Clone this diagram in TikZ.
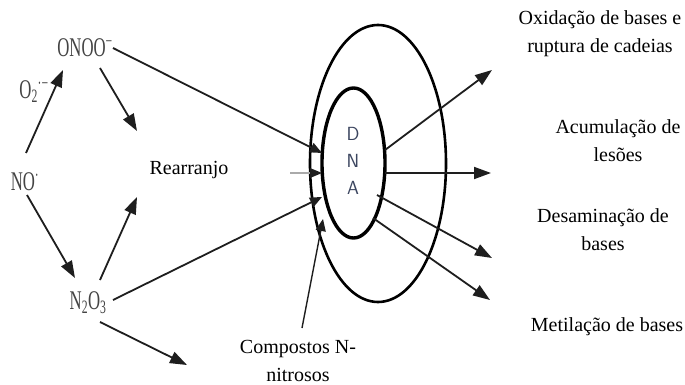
\documentclass[tikz,border=0pt]{standalone}
\usepackage{fontspec}
\setmainfont{Liberation Serif}
\usetikzlibrary{arrows.meta,shapes.geometric}
\definecolor{ln}{HTML}{1E1E1E}
\definecolor{chem}{HTML}{444444}
\definecolor{dnacol}{HTML}{3C4660}
\definecolor{faint}{HTML}{AAAAAA}
\newcommand{\chemtxt}[1]{\scalebox{0.62}[1]{#1}}
\tikzset{
  lbl/.style={font=\fontsize{20}{28}\selectfont, align=center, inner sep=0pt, text=black},
  chemlbl/.style={font=\fontsize{27}{30}\selectfont, inner sep=0pt, text=chem},
  dnaletter/.style={font=\sffamily\fontsize{19}{22}\selectfont, inner sep=0pt, text=dnacol},
  ring/.style={draw=black, ellipse, inner sep=0pt, fill=none},
  bigarrow/.style={draw=ln, line width=1.8pt, -{Triangle[length=17pt,width=12pt]}},
  smallarrow/.style={draw=ln, line width=1.8pt, -{Triangle[length=12pt,width=10pt]}}
}
\begin{document}
\begin{tikzpicture}[x=1pt,y=-1pt]
\useasboundingbox (0,0) rectangle (685,385);
\fill[white] (0,0) rectangle (685,385);

% rings
\node[ring, line width=2.6pt, minimum width=136pt, minimum height=277pt] (outer) at (378,163.5) {};
\node[ring, line width=3.4pt, minimum width=63pt, minimum height=150pt] (dna) at (353.5,163) {};
\node[dnaletter] (dD) at (353,134) {D};
\node[dnaletter] (dN) at (353,161) {N};
\node[dnaletter] (dA) at (353,188) {A};

% left labels
\node[chemlbl] (onoo) at (85,48) {\chemtxt{ONOO\textsuperscript{−}}};
\node[chemlbl] (otwo) at (34,92) {\chemtxt{O\textsubscript{2}\textsuperscript{·−}}};
\node[chemlbl] (no) at (25,182) {\chemtxt{NO\textsuperscript{·}}};
\node[chemlbl] (ntwo) at (88,303) {\chemtxt{N\textsubscript{2}O\textsubscript{3}}};
\node[lbl] (rear) at (189,170) {Rearranjo};
\node[lbl] (comp) at (298,361) {Compostos N-\\nitrosos};

% right labels
\node[lbl] (oxi) at (600,34) {Oxidação de bases e\\ruptura de cadeias};
\node[lbl] (acu) at (618,141) {Acumulação de\\lesões};
\node[lbl] (des) at (603,230) {Desaminação de\\bases};
\node[lbl] (met) at (607,327) {Metilação de bases};

% connector end points
\coordinate (noUp) at (26,153);
\coordinate (onooTip) at (63,70);
\coordinate (onooDn) at (100,68);
\coordinate (rearTipA) at (137,131);
\coordinate (noDn) at (27,195);
\coordinate (ntwoTip) at (75,278);
\coordinate (ntwoUp) at (100,280);
\coordinate (rearTipB) at (137,197);
\coordinate (ntwoDn) at (100,322);
\coordinate (ntwoEnd) at (187,365);
\coordinate (onooR) at (113,48);
\coordinate (inA) at (322,153);
\coordinate (grayStart) at (290,173);
\coordinate (inB) at (322,173);
\coordinate (ntwoR) at (113,300);
\coordinate (inC) at (322,197);
\coordinate (compTop) at (302,328);
\coordinate (inD) at (323,219);
\coordinate (outA) at (385,150);
\coordinate (outB) at (385,173);
\coordinate (outC) at (377,195);
\coordinate (outD) at (373,218);
\coordinate (oxiTip) at (492,70);
\coordinate (acuTip) at (491,173);
\coordinate (desTip) at (492,258);
\coordinate (metTip) at (490,300);

% left network
\draw[bigarrow] (noUp) -- (onooTip);
\draw[bigarrow] (onooDn) -- (rearTipA);
\draw[bigarrow] (noDn) -- (ntwoTip);
\draw[bigarrow] (ntwoUp) -- (rearTipB);
\draw[bigarrow] (ntwoDn) -- (ntwoEnd);

% into DNA
\draw[smallarrow] (onooR) -- (inA);
\draw[draw=faint, line width=1.3pt] (grayStart) -- ([xshift=-10pt]inB);
\fill[ln] (inB) -- ++(-12,-5) -- ++(0,10) -- cycle;
\draw[smallarrow] (ntwoR) -- (inC);
\draw[smallarrow, line width=1.4pt] (compTop) -- (inD);

% out of DNA
\draw[bigarrow] (outA) -- (oxiTip);
\draw[bigarrow] (outB) -- (acuTip);
\draw[bigarrow] (outC) -- (desTip);
\draw[bigarrow] (outD) -- (metTip);
\end{tikzpicture}
\end{document}
